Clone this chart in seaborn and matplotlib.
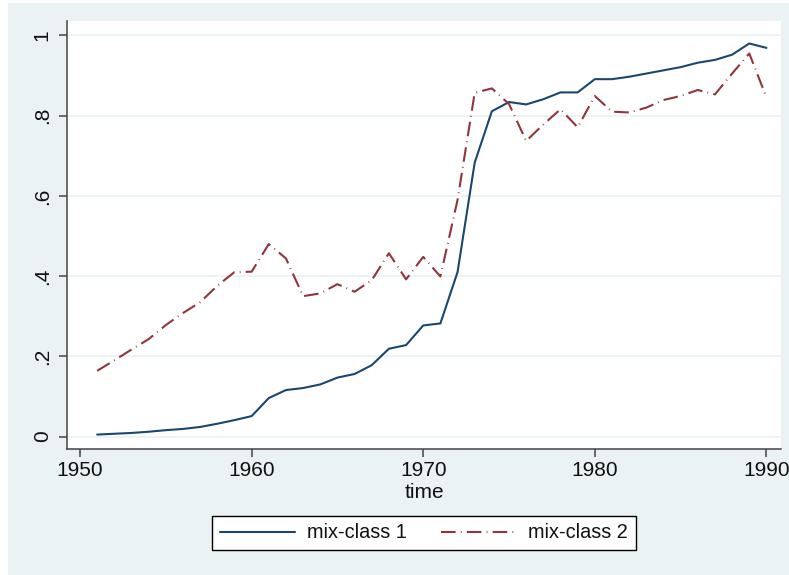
import numpy as np
import pandas as pd
import matplotlib
matplotlib.use("Agg")
import matplotlib.pyplot as plt
import seaborn as sns
from matplotlib.patches import Rectangle

years = list(range(1951, 1991))
class1 = [0.005, 0.007, 0.009, 0.012, 0.016, 0.019, 0.024, 0.032, 0.041, 0.051,
          0.096, 0.116, 0.121, 0.130, 0.147, 0.156, 0.178, 0.219, 0.228, 0.277,
          0.282, 0.410, 0.683, 0.811, 0.834, 0.828, 0.841, 0.858, 0.858, 0.891,
          0.891, 0.897, 0.905, 0.913, 0.921, 0.932, 0.939, 0.952, 0.980, 0.969]
class2 = [0.164, 0.190, 0.217, 0.243, 0.278, 0.308, 0.335, 0.376, 0.410, 0.411,
          0.480, 0.444, 0.350, 0.357, 0.380, 0.361, 0.390, 0.457, 0.392, 0.448,
          0.399, 0.590, 0.857, 0.868, 0.829, 0.737, 0.778, 0.816, 0.771, 0.849,
          0.810, 0.808, 0.820, 0.839, 0.849, 0.864, 0.853, 0.905, 0.955, 0.846]
series_names = ["mix-class 1", "mix-class 2"]
yticks = [0, 0.2, 0.4, 0.6, 0.8, 1.0]
ytick_labels = ["0", ".2", ".4", ".6", ".8", "1"]
xticks = [1950, 1960, 1970, 1980, 1990]

df = pd.DataFrame({
    "time": years * 2,
    "value": class1 + class2,
    "series": [series_names[0]] * len(years) + [series_names[1]] * len(years),
})

sns.set_style("white")
plt.rcParams["font.family"] = ["Liberation Sans", "DejaVu Sans"]

BG = "#EAF2F3"
fig = plt.figure(figsize=(7.89, 5.75), dpi=100, facecolor="white")
fig.patches.append(Rectangle((8 / 789, 0), 1 - 8 / 789, 1 - 3 / 575,
                             transform=fig.transFigure, facecolor=BG,
                             edgecolor="none", zorder=-10))
ax = fig.add_axes([67 / 789, 1 - 449 / 575, (781 - 67) / 789, (449 - 21) / 575])
ax.set_facecolor("white")

palette = {series_names[0]: "#1A476F", series_names[1]: "#90353B"}
dashes = {series_names[0]: "", series_names[1]: (7, 2.5, 0.4, 2.5)}
sns.lineplot(data=df, x="time", y="value", hue="series", style="series",
             palette=palette, dashes=dashes, linewidth=1.5, legend=False, ax=ax)

ax.set_xlim(1949.24, 1990.85)
ax.set_ylim(-0.031, 1.036)
ax.set_yticks(yticks)
ax.set_yticklabels(ytick_labels, rotation=90, va="center")
ax.set_xticks(xticks)
ax.set_xticklabels([str(x) for x in xticks])
ax.grid(axis="y", color=BG, linewidth=1.3)
ax.grid(axis="x", visible=False)
ax.set_axisbelow(True)

for s in ["top", "right"]:
    ax.spines[s].set_visible(False)
for s in ["left", "bottom"]:
    ax.spines[s].set_color("#444444")
    ax.spines[s].set_linewidth(1.1)
ax.tick_params(axis="both", direction="out", length=6, width=1.1,
               color="#444444", labelsize=15, labelcolor="#111111", pad=5)
ax.tick_params(axis="y", left=True)
ax.tick_params(axis="x", bottom=True, pad=3)
ax.set_xlabel("time", fontsize=15, color="#111111", labelpad=2)
ax.set_ylabel("")

lines = ax.get_lines()[:2]
leg = fig.legend(lines, series_names, loc="center",
                 bbox_to_anchor=(424 / 789, 1 - 533 / 575), ncol=2,
                 fontsize=14.3, frameon=True, fancybox=False,
                 edgecolor="black", facecolor="white", framealpha=1,
                 handlelength=3.8, handletextpad=0.6, columnspacing=1.7,
                 borderpad=0.38)
leg.get_frame().set_linewidth(1.0)
for t in leg.get_texts():
    t.set_color("#111111")

fig.savefig("out.png", dpi=100, facecolor=fig.get_facecolor())
